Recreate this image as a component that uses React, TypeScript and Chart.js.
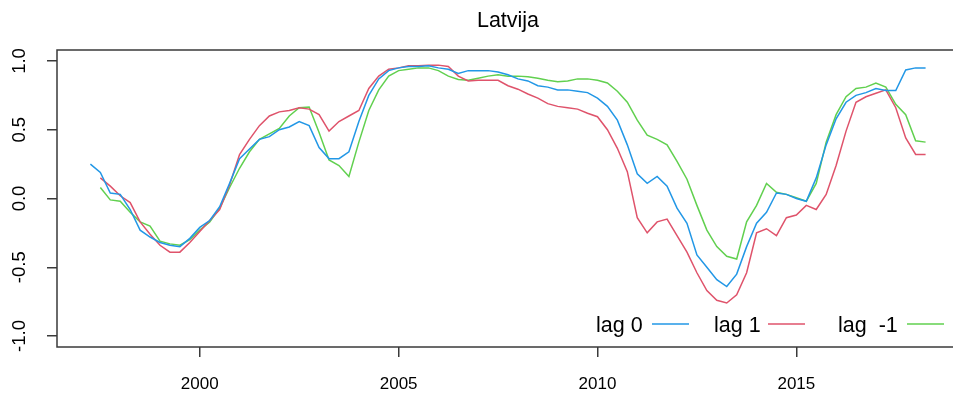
import { useEffect, useRef } from "react";
import { Chart, registerables } from "chart.js";

Chart.register(...registerables);

const quarters = [
  1997.25, 1997.5, 1997.75, 1998, 1998.25, 1998.5, 1998.75, 1999, 1999.25, 1999.5,
  1999.75, 2000, 2000.25, 2000.5, 2000.75, 2001, 2001.25, 2001.5, 2001.75, 2002,
  2002.25, 2002.5, 2002.75, 2003, 2003.25, 2003.5, 2003.75, 2004, 2004.25, 2004.5,
  2004.75, 2005, 2005.25, 2005.5, 2005.75, 2006, 2006.25, 2006.5, 2006.75, 2007,
  2007.25, 2007.5, 2007.75, 2008, 2008.25, 2008.5, 2008.75, 2009, 2009.25, 2009.5,
  2009.75, 2010, 2010.25, 2010.5, 2010.75, 2011, 2011.25, 2011.5, 2011.75, 2012,
  2012.25, 2012.5, 2012.75, 2013, 2013.25, 2013.5, 2013.75, 2014, 2014.25, 2014.5,
  2014.75, 2015, 2015.25, 2015.5, 2015.75, 2016, 2016.25, 2016.5, 2016.75, 2017,
  2017.25, 2017.5, 2017.75, 2018, 2018.25,
];

const lag0 = [
  0.25, 0.19, 0.04, 0.03, -0.08, -0.23, -0.28, -0.32, -0.34, -0.35,
  -0.29, -0.21, -0.16, -0.06, 0.11, 0.29, 0.36, 0.43, 0.45, 0.5,
  0.52, 0.56, 0.53, 0.37, 0.29, 0.29, 0.34, 0.56, 0.75, 0.87,
  0.93, 0.95, 0.96, 0.96, 0.965, 0.95, 0.94, 0.91, 0.93, 0.93,
  0.93, 0.92, 0.9, 0.87, 0.855, 0.82, 0.81, 0.79, 0.79, 0.78,
  0.77, 0.73, 0.67, 0.57, 0.39, 0.18, 0.11, 0.16, 0.09, -0.07,
  -0.18, -0.41, -0.5, -0.59, -0.64, -0.55, -0.35, -0.18, -0.1, 0.04,
  0.03, 0.0, -0.02, 0.15, 0.39, 0.58, 0.7, 0.75, 0.77, 0.8,
  0.785, 0.785, 0.935, 0.95, 0.95,
];

const lag1 = [
  null, 0.15, 0.09, 0.02, -0.03, -0.17, -0.26, -0.34, -0.39, -0.39,
  -0.32, -0.24, -0.16, -0.08, 0.1, 0.32, 0.43, 0.53, 0.6, 0.63,
  0.64, 0.66, 0.65, 0.61, 0.49, 0.56, 0.6, 0.64, 0.8, 0.89,
  0.94, 0.95, 0.965, 0.965, 0.97, 0.97, 0.96, 0.89, 0.855, 0.86,
  0.86, 0.86, 0.82, 0.795, 0.76, 0.73, 0.69, 0.67, 0.66, 0.65,
  0.62, 0.595, 0.5, 0.365, 0.195, -0.14, -0.25, -0.17, -0.15, -0.27,
  -0.39, -0.54, -0.67, -0.74, -0.76, -0.7, -0.54, -0.25, -0.22, -0.27,
  -0.14, -0.12, -0.05, -0.08, 0.03, 0.24, 0.49, 0.7, 0.74, 0.765,
  0.79, 0.66, 0.44, 0.32, 0.32,
];

const lagMinus1 = [
  null, 0.08, -0.01, -0.02, -0.1, -0.17, -0.2, -0.31, -0.33, -0.34,
  -0.3, -0.23, -0.17, -0.07, 0.08, 0.22, 0.34, 0.43, 0.47, 0.51,
  0.6, 0.66, 0.665, 0.48, 0.28, 0.24, 0.16, 0.41, 0.64, 0.79,
  0.89, 0.93, 0.94, 0.95, 0.95, 0.93, 0.89, 0.865, 0.86, 0.875,
  0.89, 0.9, 0.89, 0.89, 0.885, 0.875, 0.86, 0.85, 0.855, 0.87,
  0.87, 0.86, 0.84, 0.78, 0.7, 0.57, 0.46, 0.43, 0.39, 0.27,
  0.14, -0.05, -0.23, -0.35, -0.42, -0.44, -0.17, -0.05, 0.11, 0.045,
  0.03, 0.005, -0.02, 0.11, 0.41, 0.61, 0.74, 0.8, 0.81, 0.84,
  0.81, 0.685, 0.61, 0.42, 0.41,
];

const xTicks = [2000, 2005, 2010, 2015];
const yTicks = [-1, -0.5, 0, 0.5, 1];
const seriesLabels = ["lag 0", "lag 1", "lag  -1"];
const seriesColors = ["#2297E6", "#DF536B", "#61D04F"];
const title = "Latvija";

const FONT = "'Liberation Sans', Arial, sans-serif";
const W = 968;
const H = 405;

export default function App() {
  const ref = useRef<HTMLCanvasElement | null>(null);

  useEffect(() => {
    const canvas = ref.current;
    if (!canvas) return;
    const series = [lag0, lag1, lagMinus1];

    const framePlugin = {
      id: "rframe",
      beforeDraw(chart: any) {
        const ctx = chart.ctx;
        ctx.save();
        ctx.fillStyle = "#ffffff";
        ctx.fillRect(0, 0, chart.width, chart.height);
        ctx.restore();
      },
      afterDraw(chart: any) {
        const ctx = chart.ctx;
        const a = chart.chartArea;
        const ys = chart.scales.y;
        ctx.save();
        // frame
        ctx.strokeStyle = "#3a3a3a";
        ctx.lineWidth = 1.5;
        ctx.strokeRect(a.left, a.top, a.right - a.left, a.bottom - a.top);
        // y tick labels (rotated, like R)
        ctx.fillStyle = "#000";
        ctx.font = `18.5px ${FONT}`;
        ctx.textAlign = "center";
        ctx.textBaseline = "middle";
        for (const v of yTicks) {
          const py = ys.getPixelForValue(v);
          ctx.save();
          ctx.translate(a.left - 37, py);
          ctx.rotate(-Math.PI / 2);
          ctx.fillText(v.toFixed(1), 0, 0);
          ctx.restore();
        }
        // title
        ctx.font = `21.5px ${FONT}`;
        ctx.textBaseline = "alphabetic";
        ctx.fillText(title, (a.left + a.right) / 2, 27);
        // legend (text then line, bottom right)
        ctx.font = `21.5px ${FONT}`;
        ctx.textAlign = "left";
        const textX = [a.right - 363, a.right - 245, a.right - 121];
        const lineX = [a.right - 307, a.right - 191, a.right - 52];
        const baseY = a.bottom - 15;
        const lineY = a.bottom - 23;
        for (let i = 0; i < 3; i++) {
          ctx.fillStyle = "#000";
          ctx.fillText(seriesLabels[i], textX[i], baseY);
          ctx.strokeStyle = seriesColors[i];
          ctx.lineWidth = 1.5;
          ctx.beginPath();
          ctx.moveTo(lineX[i], lineY);
          ctx.lineTo(lineX[i] + 37, lineY);
          ctx.stroke();
        }
        ctx.restore();
      },
    };

    const chart = new Chart(canvas, {
      type: "line",
      data: {
        datasets: series.map((s, i) => ({
          label: seriesLabels[i],
          data: quarters.map((q, j) => ({ x: q, y: s[j] })),
          borderColor: seriesColors[i],
          backgroundColor: seriesColors[i],
          borderWidth: 1.5,
          pointRadius: 0,
          tension: 0,
          spanGaps: false,
        })),
      },
      options: {
        responsive: false,
        animation: false,
        devicePixelRatio: 1,
        layout: { padding: { top: 50, left: 0, right: W - 959, bottom: 0 } },
        plugins: {
          legend: { display: false },
          title: { display: false },
          tooltip: { enabled: false },
        },
        scales: {
          x: {
            type: "linear",
            min: 1996.41,
            max: 2019.09,
            afterBuildTicks: (s: any) => {
              s.ticks = xTicks.map((v) => ({ value: v }));
            },
            afterFit: (s: any) => {
              s.height = H - 347;
            },
            border: { display: false },
            grid: {
              drawOnChartArea: false,
              drawTicks: true,
              tickLength: 10,
              color: "#3a3a3a",
              lineWidth: 1.5,
            },
            ticks: {
              autoSkip: false,
              maxRotation: 0,
              minRotation: 0,
              padding: 17,
              color: "#000",
              font: { family: FONT, size: 17 },
              callback: (v: any) => String(v),
            },
          },
          y: {
            type: "linear",
            min: -1.08,
            max: 1.08,
            afterBuildTicks: (s: any) => {
              s.ticks = yTicks.map((v) => ({ value: v }));
            },
            afterFit: (s: any) => {
              s.width = 57;
            },
            border: { display: false },
            grid: {
              drawOnChartArea: false,
              drawTicks: true,
              tickLength: 10,
              color: "#3a3a3a",
              lineWidth: 1.5,
            },
            ticks: {
              display: false,
            },
          },
        },
      },
      plugins: [framePlugin],
    });

    return () => chart.destroy();
  }, []);

  return (
    <div
      style={{
        position: "fixed",
        left: 0,
        top: 0,
        width: 953,
        height: 405,
        overflow: "hidden",
        background: "#fff",
      }}
    >
      <canvas ref={ref} width={W} height={H} style={{ width: W, height: H, display: "block" }} />
    </div>
  );
}
